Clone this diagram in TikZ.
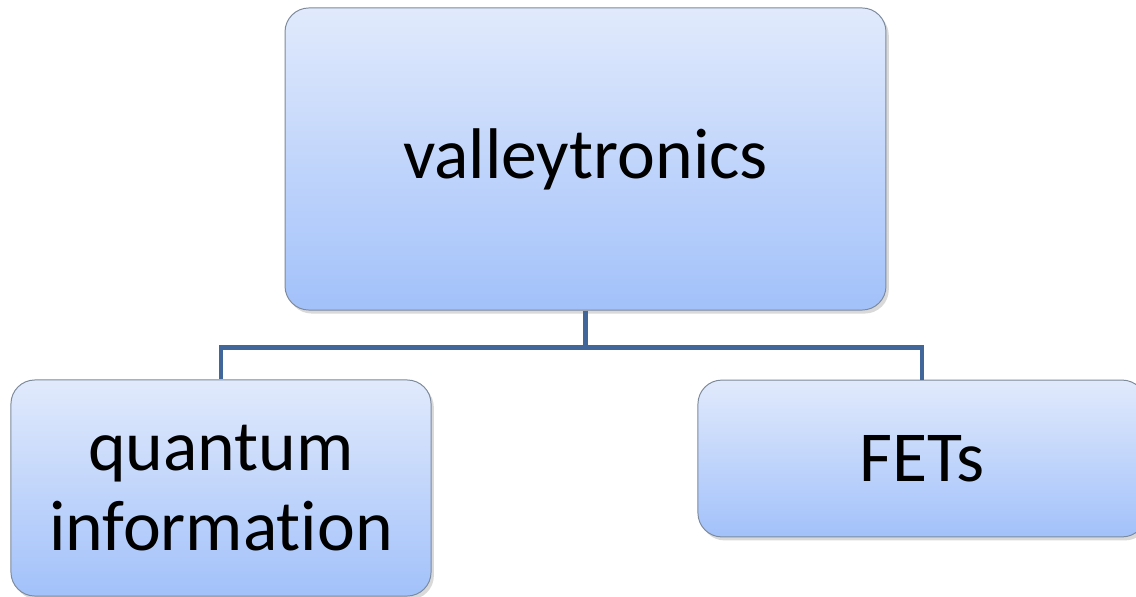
\documentclass[tikz,border=0pt]{standalone}
\usepackage{fontspec}
\setmainfont[Ligatures=NoCommon]{Carlito}
\definecolor{boxtop}{HTML}{E1EAFC}
\definecolor{boxbottom}{HTML}{A2C1FA}
\definecolor{boxline}{HTML}{7D8A9C}
\definecolor{linkline}{HTML}{41679A}
\usetikzlibrary{shadows, positioning}

\begin{document}
\begin{tikzpicture}[
      x=0.025cm, y=-0.025cm,
      tbox/.style={draw=boxline, line width=0.7pt, rounded corners=17pt,
                   top color=boxtop, bottom color=boxbottom,
                   drop shadow={opacity=0.3, shadow xshift=2pt, shadow yshift=-2.5pt},
                   font=\fontsize{51}{57}\selectfont, align=center, inner sep=0pt},
      link/.style={draw=linkline, line width=3pt, line join=miter}
    ]
    \useasboundingbox (0,0) rectangle (1136,597);
    \node[tbox, minimum width=15.02cm, minimum height=7.55cm] (root) at (585.5,159) {valleytronics};
    \node[tbox, minimum width=10.5cm, minimum height=5.4cm] (qinfo) at (221,488) {quantum\\information};
    \node[tbox, minimum width=11.2cm, minimum height=3.92cm] (fets) at (922,458.5) {FETs};
    \draw[link] (root.south) -- ++(0,37) coordinate (split);
    \draw[link] (split) -| (qinfo.north);
    \draw[link] (split) -| (fets.north);
  \end{tikzpicture}
\end{document}
